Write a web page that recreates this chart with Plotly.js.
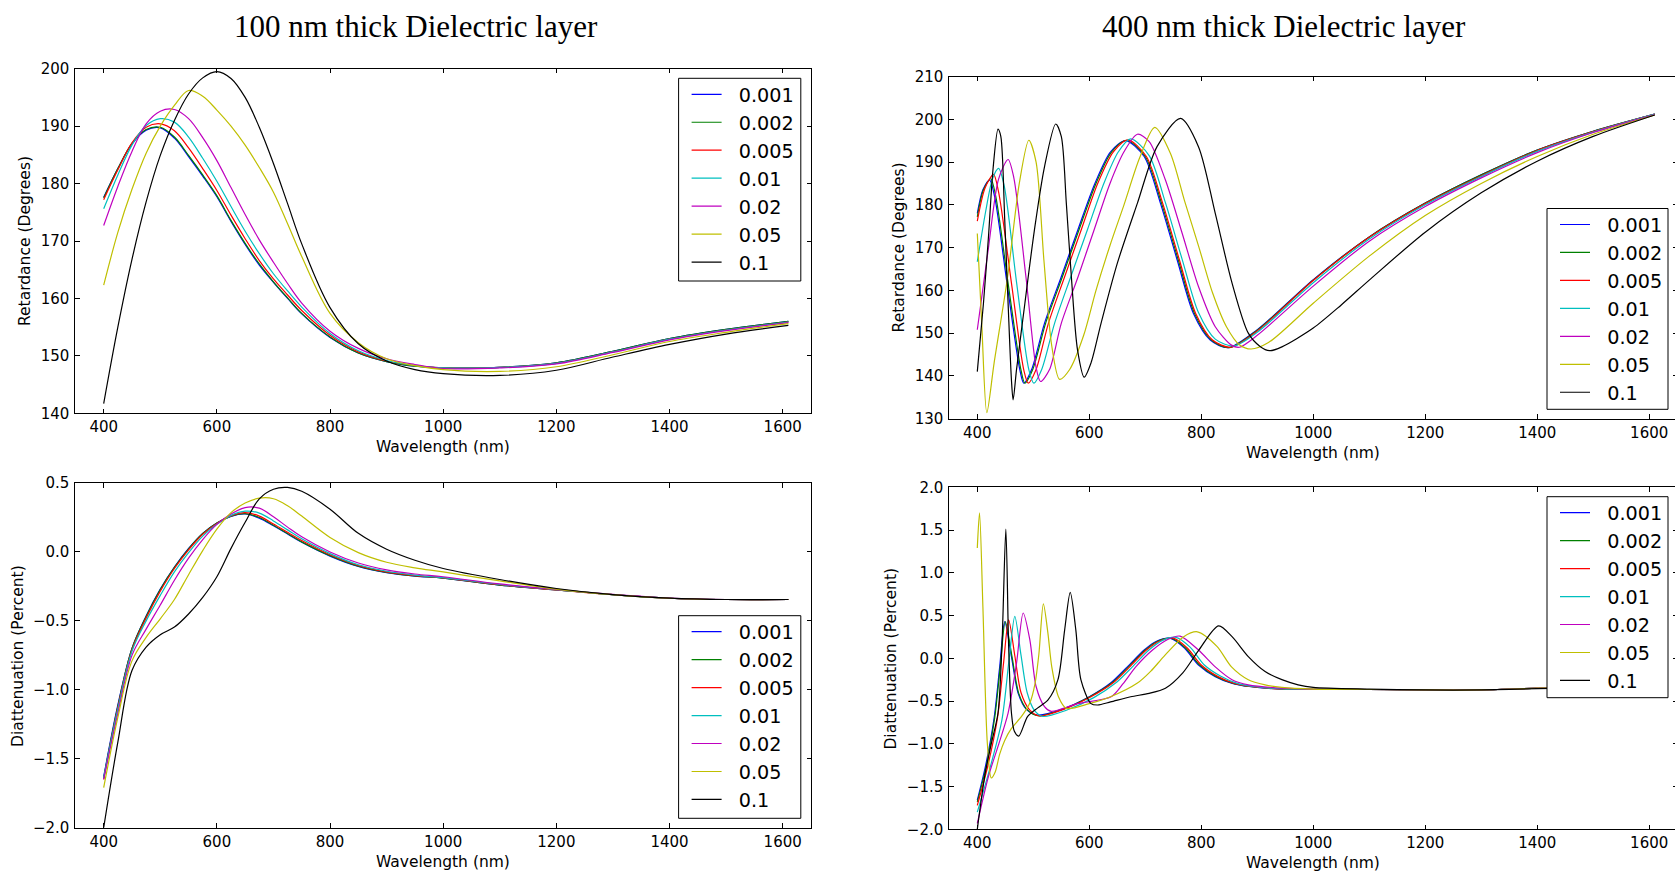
<!DOCTYPE html>
<html>
<head>
<meta charset="utf-8">
<script src="https://cdn.plot.ly/plotly-3.0.1.min.js"></script>
<style>
  html, body { margin: 0; padding: 0; overflow: hidden; background: #fff; }
  #fig { width: 1690px; height: 873px; }
</style>
</head>
<body>
<div id="fig"></div>
<script>
// Loss values shown in every legend, one curve per value
const seriesLabels = ['0.001', '0.002', '0.005', '0.01', '0.02', '0.05', '0.1'];

// ---- 100 nm layer: shared wavelength grid (nm) ----
const wavelength100 = [400, 425, 450, 475, 500, 525, 550, 575, 600, 625, 650, 675, 700, 725, 750,
  800, 850, 900, 950, 1000, 1100, 1200, 1300, 1400, 1500, 1610];

// Retardance (degrees), rows follow seriesLabels
const retardance100 = [
  [177.6, 182.6, 186.9, 189.3, 189.7, 187.9, 184.7, 181.3, 177.7, 173.4, 169.4, 165.8, 162.8, 160.0, 157.3, 153.2, 150.5, 149.0, 148.2, 147.9, 148.0, 148.8, 150.8, 153.0, 154.6, 156.0],
  [177.5, 182.6, 187.0, 189.4, 189.8, 188.1, 184.9, 181.5, 177.9, 173.6, 169.6, 166.0, 162.9, 160.1, 157.4, 153.3, 150.5, 149.0, 148.2, 147.9, 148.0, 148.8, 150.8, 153.0, 154.6, 156.0],
  [177.2, 182.4, 187.1, 189.8, 190.4, 189.2, 186.2, 182.6, 178.8, 174.5, 170.4, 166.6, 163.4, 160.6, 157.9, 153.6, 150.7, 149.1, 148.3, 147.9, 148.0, 148.7, 150.7, 152.9, 154.5, 155.9],
  [175.6, 181.5, 186.7, 190.1, 191.3, 190.7, 188.1, 184.4, 180.4, 176.0, 171.7, 167.8, 164.3, 161.3, 158.5, 153.9, 150.9, 149.2, 148.3, 147.9, 148.0, 148.7, 150.7, 152.9, 154.5, 155.9],
  [172.7, 179.5, 185.6, 190.4, 192.6, 192.9, 191.3, 188.0, 184.0, 179.3, 174.6, 170.2, 166.3, 162.6, 159.2, 154.3, 151.3, 149.5, 148.5, 147.8, 147.9, 148.6, 150.6, 152.8, 154.4, 155.8],
  [162.3, 171.5, 179.0, 185.3, 190.0, 193.6, 196.2, 195.2, 192.8, 190.0, 186.7, 182.8, 178.5, 173.0, 167.3, 157.4, 152.3, 149.5, 148.3, 147.6, 147.3, 148.1, 150.2, 152.5, 154.1, 155.6],
  [141.7, 155.0, 166.8, 176.8, 184.9, 191.0, 195.6, 198.4, 199.5, 198.3, 195.0, 189.8, 183.5, 176.5, 169.5, 158.4, 152.1, 149.1, 147.6, 146.9, 146.6, 147.5, 149.8, 152.0, 153.8, 155.3]
];

// Diattenuation (percent), rows follow seriesLabels
const diattenuation100 = [
  [-1.63, -1.11, -0.70, -0.465, -0.27, -0.11, 0.025, 0.135, 0.21, 0.258, 0.275, 0.245, 0.19, 0.13, 0.07, -0.03, -0.105, -0.15, -0.175, -0.19, -0.24, -0.275, -0.31, -0.336, -0.345, -0.345],
  [-1.64, -1.12, -0.70, -0.468, -0.272, -0.112, 0.023, 0.134, 0.21, 0.26, 0.278, 0.25, 0.193, 0.133, 0.073, -0.027, -0.103, -0.148, -0.174, -0.19, -0.24, -0.275, -0.31, -0.336, -0.345, -0.345],
  [-1.65, -1.13, -0.71, -0.48, -0.285, -0.12, 0.015, 0.128, 0.207, 0.262, 0.285, 0.26, 0.203, 0.143, 0.083, -0.02, -0.098, -0.145, -0.172, -0.188, -0.238, -0.275, -0.31, -0.336, -0.345, -0.345],
  [-1.64, -1.14, -0.72, -0.50, -0.315, -0.145, -0.005, 0.115, 0.20, 0.265, 0.296, 0.282, 0.225, 0.16, 0.095, -0.012, -0.093, -0.14, -0.168, -0.186, -0.236, -0.273, -0.31, -0.336, -0.345, -0.345],
  [-1.65, -1.17, -0.75, -0.56, -0.385, -0.205, -0.045, 0.09, 0.20, 0.275, 0.322, 0.318, 0.255, 0.18, 0.11, 0.0, -0.08, -0.13, -0.16, -0.18, -0.232, -0.272, -0.308, -0.335, -0.345, -0.345],
  [-1.71, -1.20, -0.79, -0.62, -0.485, -0.345, -0.165, 0.01, 0.165, 0.285, 0.355, 0.39, 0.386, 0.335, 0.26, 0.105, -0.005, -0.075, -0.115, -0.145, -0.21, -0.27, -0.31, -0.336, -0.345, -0.345],
  [-2.0, -1.38, -0.86, -0.69, -0.60, -0.545, -0.45, -0.33, -0.18, 0.026, 0.215, 0.385, 0.455, 0.468, 0.44, 0.31, 0.135, 0.02, -0.06, -0.12, -0.20, -0.265, -0.31, -0.335, -0.345, -0.345]
];

// ---- 400 nm layer: each curve has its own wavelengths (nm) ----
const wavelength400Ret = [
  [400, 410, 422, 431, 453, 476, 483, 497, 520, 550, 580, 610, 638, 665, 698, 727, 757, 786, 816, 848, 900, 1000, 1100, 1200, 1300, 1400, 1500, 1610],
  [400, 411, 424, 433, 455, 478, 485, 499, 522, 552, 582, 612, 640, 667, 700, 729, 759, 788, 818, 850, 900, 1000, 1100, 1200, 1300, 1400, 1500, 1610],
  [400, 414, 429, 438, 461, 483, 491, 505, 527, 556, 586, 615, 643, 669, 702, 731, 761, 790, 820, 853, 900, 1000, 1100, 1200, 1300, 1400, 1500, 1610],
  [400, 415, 427, 438, 448, 470, 492, 501, 515, 538, 567, 597, 626, 652, 674, 707, 736, 766, 795, 825, 858, 900, 1000, 1100, 1200, 1300, 1400, 1500, 1610],
  [400, 420, 438, 455, 465, 487, 505, 513, 529, 550, 580, 609, 637, 662, 686, 707, 736, 766, 795, 825, 854, 868, 900, 1000, 1100, 1200, 1300, 1400, 1500, 1610],
  [400, 408, 417, 430, 454, 475, 492, 505, 519, 533, 547, 565, 590, 612, 637, 662, 690, 717, 745, 770, 796, 820, 845, 868, 889, 920, 1000, 1100, 1200, 1300, 1400, 1500, 1610],
  [400, 411, 420, 428, 437, 442, 449, 455, 461, 464, 470, 485, 502, 520, 540, 550, 559, 568, 579, 591, 603, 621, 650, 686, 721, 763, 795, 825, 855, 884, 905, 922, 944, 1000, 1050, 1100, 1200, 1300, 1400, 1500, 1610]
];
const retardance400 = [
  [178.0, 183.5, 185.8, 181.9, 161.7, 141.4, 138.3, 141.5, 152.3, 163.2, 174.3, 185.0, 192.4, 195.0, 191.3, 180.4, 167.1, 154.6, 148.4, 146.6, 150.8, 162.5, 172.5, 180.4, 187.0, 192.8, 197.2, 201.2],
  [177.2, 183.5, 186.1, 182.0, 161.7, 141.4, 138.3, 141.5, 152.3, 163.2, 174.3, 185.0, 192.4, 195.1, 191.3, 180.4, 167.1, 154.6, 148.4, 146.6, 150.7, 162.4, 172.5, 180.4, 187.0, 192.8, 197.2, 201.2],
  [176.2, 184.0, 187.1, 183.0, 161.7, 141.4, 138.3, 141.5, 152.3, 163.2, 174.3, 185.0, 192.4, 195.2, 191.3, 180.4, 167.1, 154.6, 148.4, 146.7, 150.5, 162.3, 172.4, 180.3, 186.8, 192.7, 197.1, 201.2],
  [166.7, 178.5, 186.0, 188.5, 184.5, 162.0, 141.5, 138.3, 141.5, 152.3, 163.2, 174.3, 185.0, 192.4, 195.4, 191.5, 180.5, 167.2, 154.8, 148.6, 147.0, 150.2, 161.8, 172.0, 180.0, 186.6, 192.5, 197.0, 201.2],
  [150.8, 170.0, 186.0, 190.6, 186.5, 163.0, 142.0, 138.7, 141.5, 152.3, 163.2, 174.3, 185.0, 192.4, 196.5, 194.8, 185.8, 173.3, 160.9, 151.5, 147.2, 146.7, 149.5, 161.0, 171.5, 179.6, 186.3, 192.2, 196.9, 201.1],
  [173.3, 152.0, 131.4, 143.0, 163.0, 185.0, 195.1, 190.0, 167.0, 147.0, 139.2, 141.5, 149.5, 160.0, 170.5, 180.0, 191.0, 198.1, 192.0, 181.0, 170.0, 159.5, 151.5, 147.3, 146.3, 147.8, 157.0, 168.0, 177.5, 185.0, 191.3, 196.5, 201.0],
  [141.0, 157.0, 172.6, 188.2, 197.7, 196.0, 176.5, 157.0, 139.0, 134.4, 141.4, 157.0, 174.1, 188.9, 198.9, 196.0, 180.4, 163.2, 146.1, 139.7, 143.0, 152.3, 166.3, 180.4, 193.6, 200.2, 193.6, 178.0, 161.7, 150.0, 146.9, 145.9, 146.8, 151.2, 156.6, 162.4, 173.6, 182.8, 190.2, 196.0, 201.0]
];

const wavelength400Dia = [
  [400, 415, 430, 440, 449, 461, 473, 488, 508, 550, 600, 638, 668, 698, 720, 745, 770, 795, 825, 854, 885, 944, 1000, 1100, 1200, 1300, 1400, 1500, 1610],
  [400, 416, 431, 441, 450, 462, 474, 489, 509, 551, 601, 640, 670, 700, 722, 747, 772, 797, 827, 856, 887, 946, 1000, 1100, 1200, 1300, 1400, 1500, 1610],
  [400, 418, 436, 447, 456, 467, 478, 493, 511, 553, 603, 642, 672, 702, 725, 750, 775, 800, 830, 858, 889, 948, 1000, 1100, 1200, 1300, 1400, 1500, 1610],
  [400, 422, 444, 457, 467, 478, 489, 502, 517, 558, 608, 647, 677, 707, 731, 755, 780, 805, 835, 863, 894, 952, 1000, 1100, 1200, 1300, 1400, 1500, 1610],
  [400, 420, 437, 455, 470, 482, 494, 505, 520, 532, 579, 639, 660, 683, 713, 740, 762, 795, 825, 855, 884, 944, 1000, 1100, 1200, 1300, 1400, 1500, 1610],
  [400, 404, 410, 418, 425, 432, 440, 449, 461, 479, 494, 503, 510, 518, 526, 533, 545, 559, 600, 638, 686, 710, 733, 768, 793, 828, 854, 884, 914, 944, 1000, 1100, 1200, 1300, 1400, 1500, 1610],
  [400, 414, 425, 437, 444, 451, 456, 461, 466, 474, 490, 508, 526, 544, 556, 566, 576, 585, 603, 615, 638, 674, 707, 736, 767, 795, 831, 855, 884, 914, 944, 973, 1000, 1100, 1200, 1300, 1400, 1500, 1610]
];
const diattenuation400 = [
  [-1.66, -1.25, -0.70, -0.10, 0.43, 0.02, -0.41, -0.60, -0.663, -0.60, -0.45, -0.29, -0.10, 0.097, 0.20, 0.234, 0.12, -0.078, -0.214, -0.29, -0.33, -0.36, -0.362, -0.365, -0.37, -0.37, -0.35, -0.34, -0.33],
  [-1.68, -1.26, -0.70, -0.10, 0.43, 0.02, -0.41, -0.60, -0.672, -0.60, -0.45, -0.29, -0.10, 0.097, 0.20, 0.233, 0.12, -0.078, -0.214, -0.29, -0.33, -0.36, -0.362, -0.365, -0.37, -0.37, -0.35, -0.34, -0.33],
  [-1.72, -1.28, -0.70, -0.05, 0.45, 0.03, -0.40, -0.60, -0.675, -0.60, -0.45, -0.29, -0.10, 0.097, 0.20, 0.235, 0.12, -0.078, -0.214, -0.29, -0.33, -0.36, -0.362, -0.365, -0.37, -0.37, -0.35, -0.34, -0.33],
  [-1.80, -1.30, -0.72, 0.00, 0.49, 0.04, -0.40, -0.61, -0.68, -0.61, -0.46, -0.29, -0.10, 0.10, 0.21, 0.245, 0.13, -0.075, -0.21, -0.29, -0.33, -0.36, -0.362, -0.365, -0.37, -0.37, -0.35, -0.34, -0.33],
  [-1.93, -1.38, -1.03, -0.64, -0.06, 0.53, 0.21, -0.33, -0.565, -0.62, -0.53, -0.45, -0.30, -0.10, 0.097, 0.22, 0.26, 0.097, -0.10, -0.25, -0.31, -0.35, -0.362, -0.365, -0.37, -0.37, -0.35, -0.34, -0.33],
  [1.29, 1.70, 0.60, -1.00, -1.40, -1.33, -1.12, -0.96, -0.82, -0.68, -0.52, -0.30, 0.05, 0.636, 0.30, -0.10, -0.45, -0.585, -0.53, -0.45, -0.29, -0.15, 0.02, 0.25, 0.31, 0.14, -0.10, -0.25, -0.31, -0.34, -0.36, -0.365, -0.37, -0.37, -0.35, -0.34, -0.33],
  [-2.0, -1.35, -1.00, -0.64, 0.14, 1.51, 0.14, -0.64, -0.85, -0.91, -0.68, -0.58, -0.49, -0.25, 0.33, 0.77, 0.33, -0.25, -0.53, -0.546, -0.51, -0.45, -0.41, -0.35, -0.17, 0.09, 0.38, 0.253, 0.02, -0.155, -0.25, -0.31, -0.34, -0.36, -0.37, -0.37, -0.355, -0.345, -0.335]
];

// ---- drawing ----
const W = 1690, H = 873;
const seriesColors = ['#0000ff', '#008000', '#ff0000', '#00bfbf', '#bf00bf', '#bfbf00', '#000000'];
const px = v => v / W;
const py = v => 1 - v / H;

// plot boxes in page pixels
const boxTL = { x0: 75.4, x1: 811, y0: 68.7, y1: 413.3 };
const boxBL = { x0: 75.4, x1: 811, y0: 483, y1: 827.7 };
const boxTR = { x0: 949.3, x1: 1677.2, y0: 76.5, y1: 418.7 };
const boxBR = { x0: 949.3, x1: 1677.2, y0: 487.3, y1: 829.3 };

// legend frames in page pixels
const frameTL = { x0: 678.6, x1: 800.8, y0: 78.3, y1: 281 };
const frameBL = { x0: 678.6, x1: 800.8, y0: 615.7, y1: 818.3 };
const frameTR = { x0: 1547, x1: 1668, y0: 208.5, y1: 409.3 };
const frameBR = { x0: 1547, x1: 1668, y0: 496.7, y1: 697.7 };

// a little gap between the legend swatch and its label
const labelGap = '\u00a0\u00a0';

const traces = [];
function addPanel(xs, ys, xa, ya, legendId, smoothing) {
  seriesLabels.forEach((label, i) => {
    traces.push({
      type: 'scatter', mode: 'lines', name: labelGap + label,
      x: Array.isArray(xs[0]) ? xs[i] : xs,
      y: ys[i],
      xaxis: xa, yaxis: ya, legend: legendId,
      line: { color: seriesColors[i], width: 1.2, shape: 'spline', smoothing: smoothing },
      hoverinfo: 'skip'
    });
  });
}
addPanel(wavelength100, retardance100, 'x', 'y', 'legend', 1);
addPanel(wavelength100, diattenuation100, 'x2', 'y2', 'legend2', 1);
addPanel(wavelength400Ret, retardance400, 'x3', 'y3', 'legend3', 0.8);
addPanel(wavelength400Dia, diattenuation400, 'x4', 'y4', 'legend4', 0.8);

const tickFont = { family: 'DejaVu Sans', size: 15, color: '#000' };
const axisBase = {
  showgrid: false, zeroline: false, showline: true, linecolor: '#000', linewidth: 1,
  mirror: 'ticks', ticks: 'inside', ticklen: 4.5, tickwidth: 1, tickcolor: '#000',
  tickfont: tickFont, fixedrange: true
};
function xAxis(box, anchor) {
  return Object.assign({}, axisBase, {
    domain: [px(box.x0), px(box.x1)], anchor: anchor,
    range: [350, 1650], tickmode: 'array',
    tickvals: [400, 600, 800, 1000, 1200, 1400, 1600]
  });
}
function yAxis(box, anchor, range, step, fmt) {
  const vals = [];
  for (let v = range[0]; v <= range[1] + 1e-9; v += step) vals.push(+v.toFixed(3));
  return Object.assign({}, axisBase, {
    domain: [py(box.y1), py(box.y0)], anchor: anchor,
    range: range, tickmode: 'array', tickvals: vals, tickformat: fmt,
    ticklabelstandoff: 2
  });
}

function legendAt(f) {
  return {
    x: px(f.x0 + 8), y: py(f.y0 - 3), xanchor: 'left', yanchor: 'top',
    xref: 'paper', yref: 'paper',
    bgcolor: 'rgba(0,0,0,0)', borderwidth: 0,
    font: { family: 'DejaVu Sans', size: 19.2, color: '#000' },
    itemwidth: 30, tracegroupgap: 0, itemclick: false, itemdoubleclick: false
  };
}
function frameShape(f) {
  return {
    type: 'rect', xref: 'paper', yref: 'paper', layer: 'above',
    x0: px(f.x0), x1: px(f.x1), y0: py(f.y1), y1: py(f.y0),
    line: { color: '#000', width: 1 }, fillcolor: '#ffffff'
  };
}

const labelFont = { family: 'DejaVu Sans', size: 15.5, color: '#000' };
const titleFont = { family: 'Liberation Serif', size: 31, color: '#000' };
function note(text, x, y, font, angle) {
  return {
    text: text, xref: 'paper', yref: 'paper', x: px(x), y: py(y),
    xanchor: 'center', yanchor: 'middle', showarrow: false,
    font: font, textangle: angle || 0
  };
}

const layout = {
  width: W, height: H,
  margin: { l: 0, r: 0, t: 0, b: 0, pad: 0 },
  paper_bgcolor: '#fff', plot_bgcolor: '#fff',
  showlegend: true,
  xaxis: xAxis(boxTL, 'y'),
  yaxis: yAxis(boxTL, 'x', [140, 200], 10, 'd'),
  xaxis2: xAxis(boxBL, 'y2'),
  yaxis2: yAxis(boxBL, 'x2', [-2, 0.5], 0.5, '.1f'),
  xaxis3: xAxis(boxTR, 'y3'),
  yaxis3: yAxis(boxTR, 'x3', [130, 210], 10, 'd'),
  xaxis4: xAxis(boxBR, 'y4'),
  yaxis4: yAxis(boxBR, 'x4', [-2, 2], 0.5, '.1f'),
  legend: legendAt(frameTL),
  legend2: legendAt(frameBL),
  legend3: legendAt(frameTR),
  legend4: legendAt(frameBR),
  shapes: [frameShape(frameTL), frameShape(frameBL), frameShape(frameTR), frameShape(frameBR)],
  annotations: [
    note('100 nm thick Dielectric layer', 416, 26, titleFont),
    note('400 nm thick Dielectric layer', 1284, 26, titleFont),
    note('Wavelength (nm)', 443, 447.3, labelFont),
    note('Wavelength (nm)', 443, 861.7, labelFont),
    note('Wavelength (nm)', 1313, 452.7, labelFont),
    note('Wavelength (nm)', 1313, 863.3, labelFont),
    note('Retardance (Degrees)', 25, 241, labelFont, -90),
    note('Diattenuation (Percent)', 17.4, 655.5, labelFont, -90),
    note('Retardance (Degrees)', 898.8, 247.6, labelFont, -90),
    note('Diattenuation (Percent)', 891.3, 658.3, labelFont, -90)
  ]
};

Plotly.newPlot('fig', traces, layout, { staticPlot: true, displayModeBar: false });
</script>
</body>
</html>
